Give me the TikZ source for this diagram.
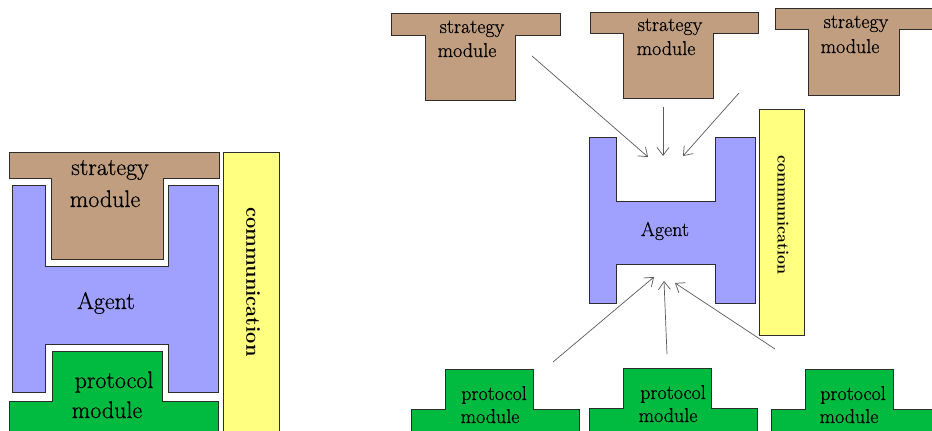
\documentclass[tikz,border=0pt]{standalone}
\usepackage{fontspec}
\usetikzlibrary{arrows.meta}
\newfontfamily\heavyrm{Latin Modern Roman}[FakeBold=0.6]
\definecolor{stratc}{RGB}{193,158,128}
\definecolor{agentc}{RGB}{160,160,255}
\definecolor{protc}{RGB}{0,187,64}
\definecolor{commc}{RGB}{255,255,128}
\definecolor{outl}{RGB}{45,45,45}
\definecolor{arrc}{RGB}{90,90,90}
\tikzset{
  shp/.style={draw=outl, line width=0.8pt},
  stratshape/.style={shp, fill=stratc},
  agentshape/.style={shp, fill=agentc},
  protshape/.style={shp, fill=protc},
  commshape/.style={shp, fill=commc},
  bigtxt/.style={inner sep=0pt, font=\heavyrm\fontsize{24}{28}\selectfont},
  smalltxt/.style={inner sep=0pt, font=\heavyrm\fontsize{20}{24}\selectfont},
  conn/.style={draw=arrc, line width=0.7pt, -{Straight Barb[length=8pt,width=12pt]}}
}
\begin{document}
\begin{tikzpicture}[x=1pt,y=-1pt]
\useasboundingbox (0,0) rectangle (932,431);
\clip (0,0) rectangle (932,431);
\fill[white] (0,0) rectangle (932,431);

% ---------- left diagram ----------
\path[stratshape] (9,152) -- (219,152) -- (219,178) -- (163,178) -- (163,259) -- (51,259) -- (51,178) -- (9,178) -- cycle;
\path[agentshape] (12,185) -- (45,185) -- (45,266) -- (168,266) -- (168,185) -- (218,185) -- (218,392) -- (168,392) -- (168,344) -- (45,344) -- (45,392) -- (12,392) -- cycle;
\path[protshape] (52,351) -- (162,351) -- (162,401) -- (218,401) -- (218,440) -- (9,440) -- (9,401) -- (52,401) -- cycle;
\path[commshape] (223,152) rectangle (279,440);

\node[bigtxt, anchor=base] (ls1) at (110,175) {strategy};
\node[bigtxt, anchor=base] (ls2) at (105,207) {module};
\node[bigtxt, anchor=base] (la) at (106,309) {Agent};
\node[bigtxt, anchor=base] (lp1) at (114,388) {protocol};
\node[bigtxt, anchor=base] (lp2) at (107,418) {module};
\node[inner sep=0pt, rotate=-90, font=\fontsize{20}{24}\selectfont\bfseries] (lc) at (253,282) {communication};

% ---------- right diagram ----------
% strategy modules
\path[stratshape] (391,13) -- (560,13) -- (560,35) -- (515,35) -- (515,100) -- (425,100) -- (425,35) -- (391,35) -- cycle;
\path[stratshape] (590,12) -- (758,12) -- (758,33) -- (713,33) -- (713,98) -- (623,98) -- (623,33) -- (590,33) -- cycle;
\path[stratshape] (775,8) -- (940,8) -- (940,29) -- (899,29) -- (899,95) -- (808,95) -- (808,29) -- (775,29) -- cycle;

% agent
\path[agentshape] (589,137) -- (616,137) -- (616,201) -- (715,201) -- (715,137) -- (755,137) -- (755,303) -- (715,303) -- (715,264) -- (616,264) -- (616,303) -- (589,303) -- cycle;
% communication
\path[commshape] (759,109) rectangle (804,335);

% protocol modules
\path[protshape] (445,369) -- (533,369) -- (533,409) -- (579,409) -- (579,440) -- (411,440) -- (411,409) -- (445,409) -- cycle;
\path[protshape] (623,368) -- (711,368) -- (711,408) -- (757,408) -- (757,440) -- (589,440) -- (589,408) -- (623,408) -- cycle;
\path[protshape] (805,369) -- (893,369) -- (893,409) -- (940,409) -- (940,440) -- (771,440) -- (771,409) -- (805,409) -- cycle;

% texts
\node[smalltxt, anchor=base] (s1a) at (472,33) {strategy};
\node[smalltxt, anchor=base] (s1b) at (467,57) {module};
\node[smalltxt, anchor=base] (s2a) at (670,31) {strategy};
\node[smalltxt, anchor=base] (s2b) at (666,55) {module};
\node[smalltxt, anchor=base] (s3a) at (856,28) {strategy};
\node[smalltxt, anchor=base] (s3b) at (850,53) {module};
\node[smalltxt, anchor=base] (ra) at (665,236) {Agent};
\node[smalltxt, anchor=base] (p1a) at (494,400) {protocol};
\node[smalltxt, anchor=base] (p1b) at (490,423) {module};
\node[smalltxt, anchor=base] (p2a) at (673,399) {protocol};
\node[smalltxt, anchor=base] (p2b) at (668,422) {module};
\node[smalltxt, anchor=base] (p3a) at (853,400) {protocol};
\node[smalltxt, anchor=base] (p3b) at (849,423) {module};
\node[inner sep=0pt, rotate=-90, font=\fontsize{16}{20}\selectfont\bfseries] (rc) at (783,215) {communication};

% arrow end points
\coordinate (a1s) at (532,56);  \coordinate (a1e) at (648,157);
\coordinate (a2s) at (663,107); \coordinate (a2e) at (663,156);
\coordinate (a3s) at (739,93);  \coordinate (a3e) at (683,156);
\coordinate (a4s) at (553,362); \coordinate (a4e) at (654,277);
\coordinate (a5s) at (667,354); \coordinate (a5e) at (664,281);
\coordinate (a6s) at (775,349); \coordinate (a6e) at (675,283);

\draw[conn] (a1s) -- (a1e);
\draw[conn] (a2s) -- (a2e);
\draw[conn] (a3s) -- (a3e);
\draw[conn] (a4s) -- (a4e);
\draw[conn] (a5s) -- (a5e);
\draw[conn] (a6s) -- (a6e);
\end{tikzpicture}
\end{document}
